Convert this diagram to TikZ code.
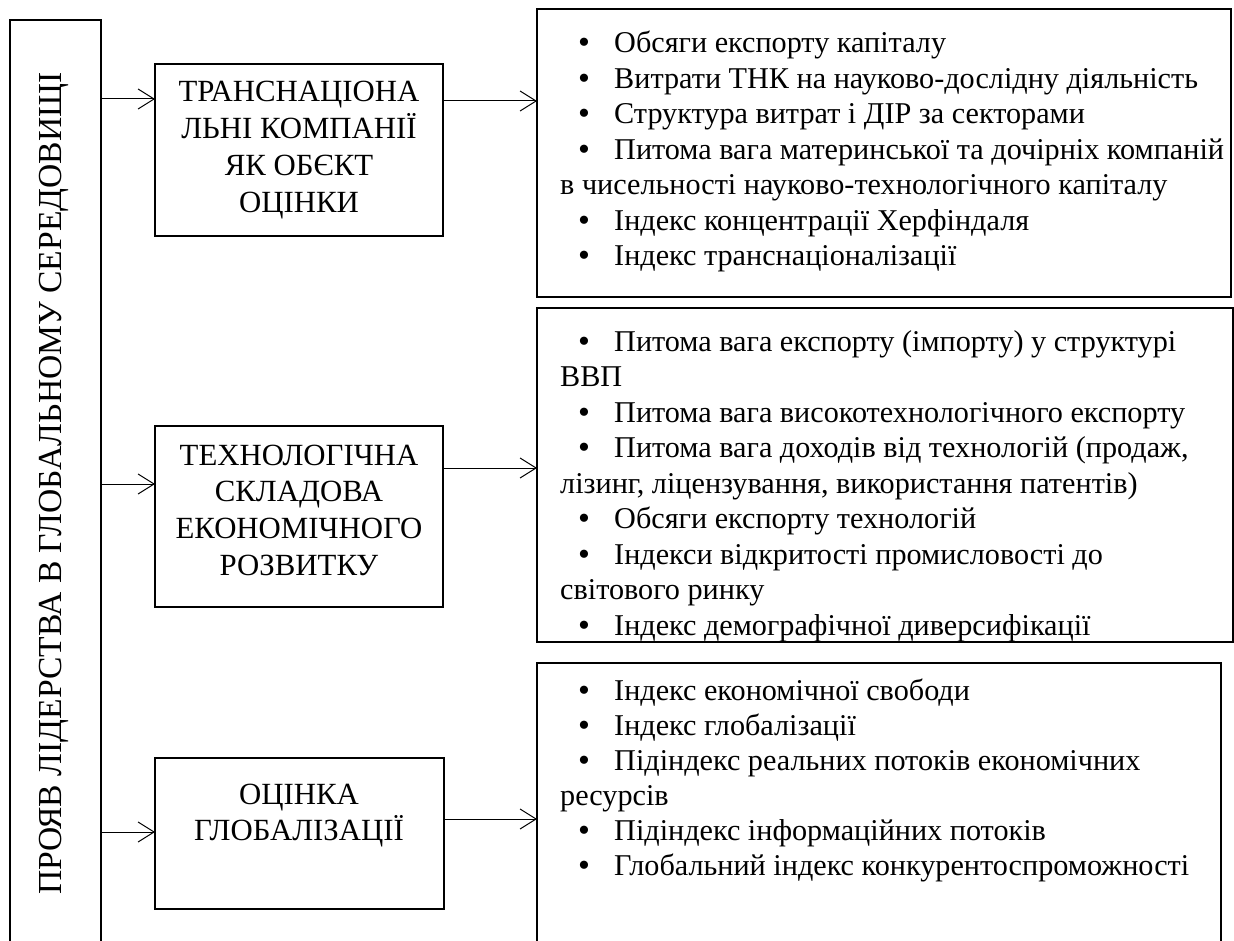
\documentclass[tikz,border=0pt]{standalone}
\usepackage{fontspec}
\setmainfont{Liberation Serif}
\usetikzlibrary{arrows.meta}
\newcommand\bul{\raisebox{-1pt}{\fontsize{34}{34}\selectfont •}}
\newcommand\bi[1]{\makebox[54pt][l]{\hspace*{18pt}\bul}#1}
\begin{document}
\begin{tikzpicture}[x=1pt,y=-1pt,
  box/.style={draw, line width=1.3pt, inner sep=0pt, outer sep=0pt, anchor=north west},
  arr/.style={line width=1pt, -{Straight Barb[length=16pt,width=20pt]}},
  mt/.style={inner sep=0pt, anchor=base, font=\fontsize{30.8}{36}\selectfont},
  rt/.style={inner sep=0pt, anchor=base west, font=\fontsize{30.2}{35}\selectfont}]
\useasboundingbox (0,0) rectangle (1234,941);
\clip (0,0) rectangle (1234,941);
% boxes
\node[box, minimum width=91, minimum height=950] (L) at (10,20) {};
\node[box, minimum width=288, minimum height=172] (B1) at (155,64) {};
\node[box, minimum width=288, minimum height=181] (B2) at (155,426) {};
\node[box, minimum width=289, minimum height=151] (B3) at (155,758) {};
\node[box, minimum width=694, minimum height=288] (R1) at (537,9) {};
\node[box, minimum width=696, minimum height=334] (R2) at (537,308) {};
\node[box, minimum width=684, minimum height=300] (R3) at (537,663) {};
% left text
\node[rotate=90, anchor=base, inner sep=0pt, font=\fontsize{33.6}{38}\selectfont] (Lt) at (61,483.5) {ПРОЯВ ЛІДЕРСТВА В ГЛОБАЛЬНОМУ СЕРЕДОВИЩІ};
% arrows
\draw[arr] (L.east |- 0,99) -- (B1.west |- 0,99);
\draw[arr] (B1.east |- 0,101) -- (R1.west |- 0,101);
\draw[arr] (L.east |- 0,484) -- (B2.west |- 0,484);
\draw[arr] (B2.east |- 0,468) -- (R2.west |- 0,468);
\draw[arr] (L.east |- 0,832) -- (B3.west |- 0,832);
\draw[arr] (B3.east |- 0,819) -- (R3.west |- 0,819);
% middle texts
\foreach \t [count=\i] in {ТРАНСНАЦІОНА, ЛЬНІ КОМПАНІЇ, ЯК ОБЄКТ, ОЦІНКИ}
  \node[mt] (m1-\i) at (299,{102+(\i-1)*36.7}) {\t};
\foreach \t [count=\i] in {ТЕХНОЛОГІЧНА, СКЛАДОВА, ЕКОНОМІЧНОГО, РОЗВИТКУ}
  \node[mt] (m2-\i) at (299,{465+(\i-1)*36.7}) {\t};
\foreach \t [count=\i] in {ОЦІНКА, ГЛОБАЛІЗАЦІЇ}
  \node[mt] (m3-\i) at (299,{804+(\i-1)*36.7}) {\t};
% right texts
\foreach \t [count=\i] in {
  {\bi{Обсяги експорту капіталу}},
  {\bi{Витрати ТНК на науково-дослідну діяльність}},
  {\bi{Структура витрат і ДІР за секторами}},
  {\bi{Питома вага материнської та дочірніх компаній}},
  {в чисельності науково-технологічного капіталу},
  {\bi{Індекс концентрації Херфіндаля}},
  {\bi{Індекс транснаціоналізації}}}
  \node[rt] (r1-\i) at (560,{53+(\i-1)*35.5}) {\t};
\begin{scope}
\clip (R2.north west) rectangle (R2.south east);
\foreach \t [count=\i] in {
  {\bi{Питома вага експорту (імпорту) у структурі}},
  {ВВП},
  {\bi{Питома вага високотехнологічного експорту}},
  {\bi{Питома вага доходів від технологій (продаж,}},
  {лізинг, ліцензування, використання патентів)},
  {\bi{Обсяги експорту технологій}},
  {\bi{Індекси відкритості промисловості до}},
  {світового ринку},
  {\bi{Індекс демографічної диверсифікації}}}
  \node[rt] (r2-\i) at (560,{351+(\i-1)*35.5}) {\t};
\end{scope}
\foreach \t [count=\i] in {
  {\bi{Індекс економічної свободи}},
  {\bi{Індекс глобалізації}},
  {\bi{Підіндекс реальних потоків економічних}},
  {ресурсів},
  {\bi{Підіндекс інформаційних потоків}},
  {\bi{Глобальний індекс конкурентоспроможності}}}
  \node[rt] (r3-\i) at (560,{700+(\i-1)*35}) {\t};
\end{tikzpicture}
\end{document}
